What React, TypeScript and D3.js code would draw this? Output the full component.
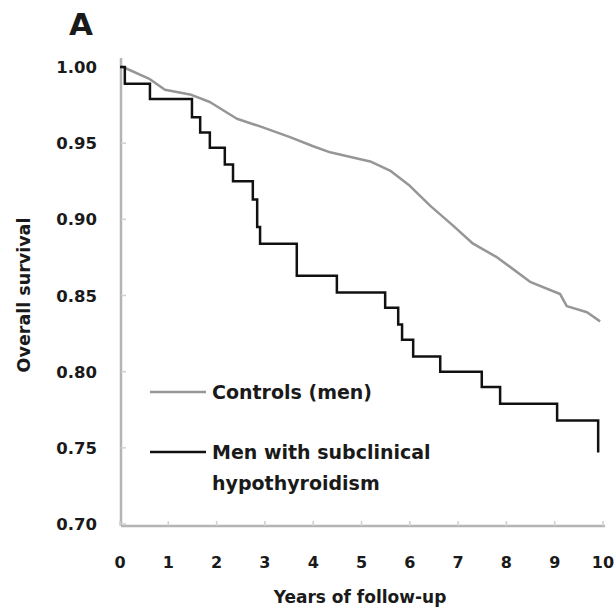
import React, { useRef, useEffect } from 'react';
import * as d3 from 'd3';

// Kaplan-Meier read-off: controls (men), grey curve
const controlYears = [0, 0.06, 0.62, 0.93, 1.45, 1.86, 2.42, 2.9, 3.52, 4.0, 4.35, 5.18, 5.59, 6.0, 6.42, 6.89, 7.31, 7.81, 8.49, 9.11, 9.25, 9.67, 9.94];
const controlSurvival = [1.0, 1.0, 0.992, 0.985, 0.982, 0.977, 0.966, 0.961, 0.954, 0.948, 0.944, 0.938, 0.932, 0.922, 0.909, 0.896, 0.884, 0.875, 0.859, 0.851, 0.843, 0.839, 0.833];

// men with subclinical hypothyroidism, step function (value holds until next year)
const caseYears = [0, 0.1, 0.62, 1.49, 1.66, 1.86, 2.17, 2.34, 2.75, 2.84, 2.9, 3.66, 4.49, 5.49, 5.76, 5.84, 6.07, 6.63, 7.49, 7.87, 9.05, 9.9];
const caseSurvival = [1.0, 0.989, 0.979, 0.967, 0.957, 0.947, 0.936, 0.925, 0.913, 0.895, 0.884, 0.863, 0.852, 0.842, 0.831, 0.821, 0.81, 0.8, 0.79, 0.779, 0.768, 0.747];

const xTicks = [0, 1, 2, 3, 4, 5, 6, 7, 8, 9, 10];
const yTicks = [0.7, 0.75, 0.8, 0.85, 0.9, 0.95, 1.0];

const legendLabels = ['Controls (men)', 'Men with subclinical', 'hypothyroidism'];

const W = 615;
const H = 613;
const FONT = '"DejaVu Sans", Arial, sans-serif';
const AXIS_GREY = '#b4b4b4';
const CONTROL_GREY = '#969696';
const TEXT = '#1a1a1a';

export default function App() {
  const svgRef = useRef<SVGSVGElement>(null);

  useEffect(() => {
    if (!svgRef.current) return;
    const svg = d3.select(svgRef.current);
    svg.selectAll('*').remove();

    const x = d3.scaleLinear().domain([0, 10]).range([120, 603]);
    const y = d3.scaleLinear().domain([0.7, 1.0]).range([524, 67]);

    const axisY = 526;
    const axisX = 121;

    // axes
    svg.append('line')
      .attr('x1', axisX).attr('y1', 58).attr('x2', axisX).attr('y2', axisY)
      .style('stroke', AXIS_GREY).style('stroke-width', 2.5);
    svg.append('line')
      .attr('x1', axisX).attr('y1', axisY).attr('x2', x(10) + 2).attr('y2', axisY)
      .style('stroke', AXIS_GREY).style('stroke-width', 2.5);

    // ticks (inward, faint)
    xTicks.forEach((t) => {
      svg.append('line')
        .attr('x1', x(t)).attr('x2', x(t)).attr('y1', axisY).attr('y2', axisY - 5)
        .style('stroke', '#d0d0d0').style('stroke-width', 1.5);
      svg.append('text')
        .attr('x', x(t)).attr('y', 568)
        .attr('text-anchor', 'middle')
        .style('font-family', FONT).style('font-weight', 'bold').style('font-size', '16px')
        .style('fill', TEXT)
        .text(String(t));
    });

    yTicks.forEach((t) => {
      svg.append('line')
        .attr('x1', axisX).attr('x2', axisX + 5).attr('y1', y(t)).attr('y2', y(t))
        .style('stroke', '#d0d0d0').style('stroke-width', 1.5);
      svg.append('text')
        .attr('x', 97).attr('y', y(t) + 6)
        .attr('text-anchor', 'end')
        .style('font-family', FONT).style('font-weight', 'bold').style('font-size', '16.5px')
        .style('fill', TEXT)
        .text(t.toFixed(2));
    });

    // axis titles
    svg.append('text')
      .attr('x', 360).attr('y', 603)
      .attr('text-anchor', 'middle')
      .style('font-family', FONT).style('font-weight', 'bold').style('font-size', '17px')
      .style('fill', TEXT)
      .text('Years of follow-up');
    svg.append('text')
      .attr('transform', 'translate(30,295) rotate(-90)')
      .attr('text-anchor', 'middle')
      .style('font-family', FONT).style('font-weight', 'bold').style('font-size', '17.5px')
      .style('fill', TEXT)
      .text('Overall survival');

    // panel letter
    svg.append('text')
      .attr('x', 69).attr('y', 35)
      .style('font-family', FONT).style('font-weight', 'bold').style('font-size', '31px')
      .style('fill', TEXT)
      .text('A');

    // curves
    const controlPts: [number, number][] = controlYears.map((d, i) => [x(d), y(controlSurvival[i])]);
    const casePts: [number, number][] = caseYears.map((d, i) => [x(d), y(caseSurvival[i])]);

    svg.append('path')
      .attr('d', d3.line().curve(d3.curveLinear)(controlPts) || '')
      .style('fill', 'none').style('stroke', CONTROL_GREY).style('stroke-width', 2.5)
      .style('stroke-linejoin', 'round');

    svg.append('path')
      .attr('d', d3.line().curve(d3.curveStepAfter)(casePts) || '')
      .style('fill', 'none').style('stroke', '#111').style('stroke-width', 2.5);

    // legend
    svg.append('line')
      .attr('x1', 150).attr('x2', 206).attr('y1', 392).attr('y2', 392)
      .style('stroke', CONTROL_GREY).style('stroke-width', 2.5);
    svg.append('line')
      .attr('x1', 150).attr('x2', 206).attr('y1', 452).attr('y2', 452)
      .style('stroke', '#111').style('stroke-width', 2.5);

    const legendY = [399, 459, 490];
    legendLabels.forEach((lbl, i) => {
      svg.append('text')
        .attr('x', 212).attr('y', legendY[i])
        .style('font-family', FONT).style('font-weight', 'bold').style('font-size', '19px')
        .style('fill', TEXT)
        .text(lbl);
    });
  }, []);

  return (
    <svg
      ref={svgRef}
      width={W}
      height={H}
      style={{ position: 'absolute', left: 0, top: 0, background: '#fff' }}
    />
  );
}
